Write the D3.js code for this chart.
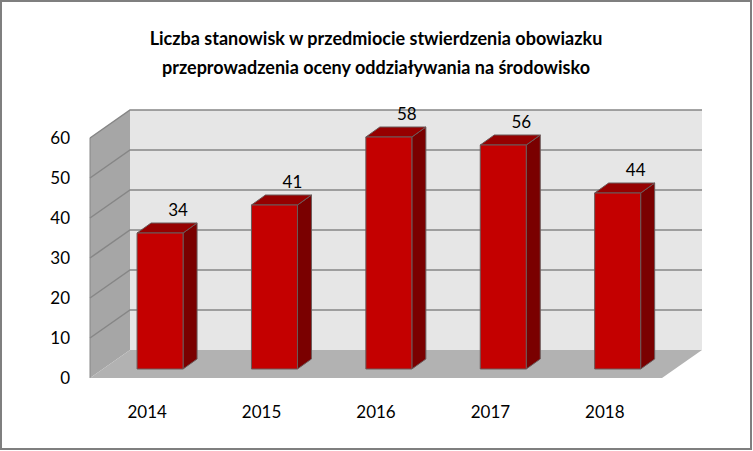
<!DOCTYPE html><html><head><meta charset="utf-8"><script src="https://cdn.jsdelivr.net/npm/d3@7"></script>
<style>body{margin:0;background:#fff}</style></head><body><svg width="753" height="451"></svg>
<script>
const categories=["2014","2015","2016","2017","2018"];
const values=[34,41,58,56,44];
const yTicks=[0,10,20,30,40,50,60];
const titleLines=["Liczba stanowisk w przedmiocie stwierdzenia obowiazku","przeprowadzenia oceny oddziaływania  na środowisko"];

const svg=d3.select("svg");
const font="Lato, 'Open Sans', sans-serif";
svg.append("rect").attr("x",1).attr("y",1).attr("width",750).attr("height",448).attr("fill","#fff").attr("stroke","#7f7f7f").attr("stroke-width",2);
titleLines.forEach((t,i)=>svg.append("text").attr("x",376).attr("y",45+i*29).attr("text-anchor","middle")
 .attr("font-family",font).attr("font-weight","bold").attr("font-size",18).text(t));

const DX=40,DY=-28; // depth offset front->back
const x0=90,x1=662;
const y=d3.scaleLinear().domain([0,60]).range([378,138]);
const xb=d3.scaleBand().domain(categories).range([x0,x1]);
const P=(x,yy,d)=>[x+DX*d,yy+DY*d];
const poly=(pts,fill,stroke)=>svg.append("polygon").attr("points",pts.map(p=>p.join(",")).join(" ")).attr("fill",fill).attr("stroke",stroke||"none");
// back wall
poly([P(x0,y(0),1),P(x1,y(0),1),P(x1,y(60),1),P(x0,y(60),1)],"#e6e6e6");
// left wall
poly([P(x0,y(0),0),P(x0,y(0),1),P(x0,y(60),1),P(x0,y(60),0)],"#a6a6a6");
// floor
poly([P(x0,y(0),0),P(x1,y(0),0),P(x1,y(0),1),P(x0,y(0),1)],"#b2b2b2");
yTicks.filter(v=>v>0).forEach(v=>{
 svg.append("polyline").attr("points",[P(x0,y(v),0),P(x0,y(v),1),P(x1,y(v),1)].map(p=>p.join(",")).join(" "))
  .attr("fill","none").attr("stroke","#868686").attr("stroke-width",1.5);
});
svg.append("line").attr("x1",x0).attr("x2",x0).attr("y1",y(0)).attr("y2",y(60)).attr("stroke","#868686");
// y labels
yTicks.forEach(v=>svg.append("text").attr("x",70).attr("y",y(v)+6).attr("text-anchor","end").attr("font-family",font).attr("font-size",17).text(v));
// x labels
categories.forEach(c=>svg.append("text").attr("x",xb(c)+xb.bandwidth()/2).attr("y",418).attr("text-anchor","middle").attr("font-family",font).attr("font-size",17).text(c));
// bars
const d0=9/28, bw=46, bdx=14, bdy=-10;
categories.forEach((c,i)=>{
 const cx=xb(c)+xb.bandwidth()/2+DX*d0;
 const base=y(0)+DY*d0, top=y(values[i])+DY*d0;
 const l=cx-bw/2,r=cx+bw/2;
 poly([[r,base],[r+bdx,base+bdy],[r+bdx,top+bdy],[r,top]],"#7a0000","#6a5a5a");
 poly([[l,top],[r,top],[r+bdx,top+bdy],[l+bdx,top+bdy]],"#960000","#6a5a5a");
 poly([[l,base],[r,base],[r,top],[l,top]],"#c40000","#6a5a5a");
 svg.append("text").attr("x",cx+18).attr("y",top-17).attr("text-anchor","middle").attr("font-family",font).attr("font-size",17).text(values[i]);
});
</script></body></html>
